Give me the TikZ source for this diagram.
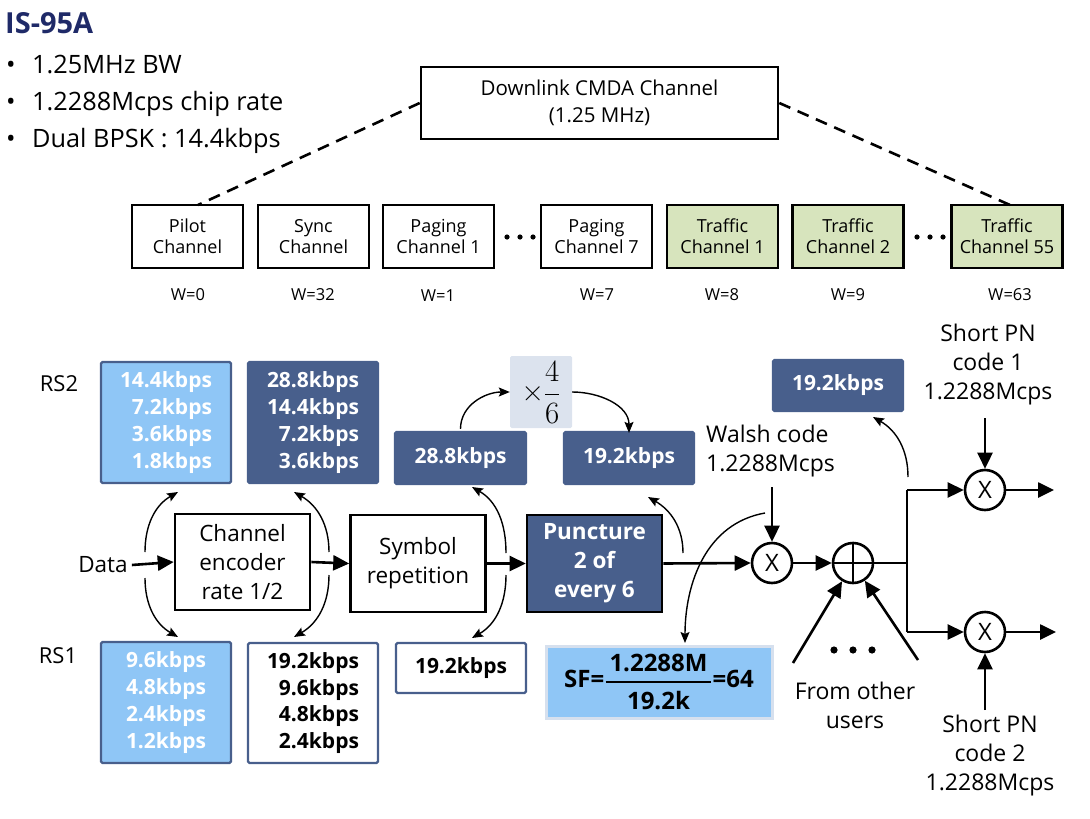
\documentclass[tikz,border=0pt]{standalone}
\usepackage{fix-cm}
\usepackage{amsmath}
\usepackage{fontspec}
\setmainfont{Open Sans}
\newfontfamily\lmr{Latin Modern Roman}
\usetikzlibrary{arrows.meta}
\newcommand{\fs}[2]{\fontsize{#1}{#2}\selectfont}
\definecolor{navy}{RGB}{31,42,104}
\definecolor{dblue}{RGB}{72,95,140}
\definecolor{lblue}{RGB}{143,198,246}
\definecolor{tgreen}{RGB}{215,228,189}
\definecolor{fracbg}{RGB}{220,227,238}
\definecolor{sfborder}{RGB}{214,224,238}
\tikzset{
  chbox/.style={draw, line width=2.6pt, minimum width=111pt, minimum height=63pt, inner sep=0pt, align=center, font=\fs{18}{21}},
  procbox/.style={draw, line width=2.6pt, minimum width=135pt, minimum height=96pt, inner sep=0pt, align=center, font=\fs{22.5}{29}},
  rate/.style={rounded corners=1.5pt, line width=2.2pt, draw=dblue, inner sep=0pt, align=right, font=\bfseries\fs{21}{26.7}, text=white},
  lb/.style={rate, fill=lblue},
  db/.style={rate, fill=dblue},
  wb/.style={rate, fill=white, text=black},
  mult/.style={circle, draw, line width=2.6pt, minimum size=40pt, inner sep=0pt, font=\fs{24}{24}},
  mainarr/.style={line width=2.6pt, -{Triangle[length=16pt,width=15pt]}},
  thinarr/.style={line width=1.4pt, -{Stealth[length=11pt,width=9pt,inset=2pt]}},
  dashln/.style={line width=2.6pt, dash pattern=on 12pt off 8pt},
  lbl/.style={inner sep=0pt, align=center},
  wlbl/.style={inner sep=0pt, font=\fs{16.5}{18}},
  bul/.style={anchor=base west, inner sep=0pt, font=\fs{25.3}{30}},
}
\begin{document}
\begin{tikzpicture}[x=1pt,y=-1pt]
\useasboundingbox (0,0) rectangle (1090,819);
% title and bullets
\node[anchor=base west, inner sep=0pt, font=\bfseries\fs{29}{34}, text=navy] (title) at (5,34) {IS-95A};
\node[bul] (d1) at (6,73) {•};
\node[bul] (b1) at (32,73) {1.25MHz BW};
\node[bul] (d2) at (6,110) {•};
\node[bul] (b2) at (32,110) {1.2288Mcps chip rate};
\node[bul] (d3) at (6,147) {•};
\node[bul] (b3) at (32,147) {Dual BPSK : 14.4kbps};
% downlink
\node[draw, line width=2.6pt, minimum width=357pt, minimum height=72pt, inner sep=0pt, align=center, font=\fs{20.5}{27}] (dl) at (599.5,103) {Downlink CMDA Channel\\(1.25 MHz)};
% channels
\node[chbox] (pilot) at (187.5,236.5) {Pilot\\Channel};
\node[chbox] (sync) at (313.5,236.5) {Sync\\Channel};
\node[chbox] (pag1) at (438.5,236.5) {Paging\\Channel 1};
\node[chbox] (pag7) at (596.5,236.5) {Paging\\Channel 7};
\node[chbox, fill=tgreen] (tr1) at (722.5,236.5) {Traffic\\Channel 1};
\node[chbox, fill=tgreen] (tr2) at (848,236.5) {Traffic\\Channel 2};
\node[chbox, fill=tgreen] (tr55) at (1007,236.5) {Traffic\\Channel 55};
\foreach \x in {507,520,533,917,930,943} \fill (\x,237) circle (2.6pt);
\node[wlbl] (w0) at (188,295) {W=0};
\node[wlbl] (w32) at (313,295) {W=32};
\node[wlbl] (w1) at (438,296) {W=1};
\node[wlbl] (w7) at (597,295) {W=7};
\node[wlbl] (w8) at (722,295) {W=8};
\node[wlbl] (w9) at (848,295) {W=9};
\node[wlbl] (w63) at (1010,295) {W=63};
\coordinate (pilotTop) at (198,205);
\coordinate (tr55Top) at (1010,205);
\draw[dashln] (dl.west) -- (pilotTop);
\draw[dashln] (dl.east) -- (tr55Top);
% lower section labels
\node[lbl, font=\fs{22}{26}] (rs2) at (59,384) {RS2};
\node[lbl, font=\fs{22}{26}] (rs1) at (58,656) {RS1};
\node[lb, minimum width=130pt, minimum height=121pt] (lb1) at (166,422.5) {14.4kbps\\7.2kbps\\3.6kbps\\1.8kbps};
\node[db, minimum width=130pt, minimum height=121pt] (db1) at (313,422.5) {28.8kbps\\14.4kbps\\7.2kbps\\3.6kbps};
\node[lb, minimum width=130pt, minimum height=121pt] (lb2) at (166,702.5) {9.6kbps\\4.8kbps\\2.4kbps\\1.2kbps};
\node[wb, minimum width=130pt, minimum height=120pt] (wb1) at (313,703) {19.2kbps\\9.6kbps\\4.8kbps\\2.4kbps};
\node[lbl, font=\fs{22.5}{29}] (data) at (103,565) {Data};
\node[procbox] (enc) at (242.5,562) {Channel\\encoder\\rate 1/2};
\node[procbox, minimum height=97pt] (sym) at (418,563.5) {Symbol\\repetition};
\node[procbox, minimum height=97pt, fill=dblue, text=white, font=\bfseries\fs{22.5}{29}] (pun) at (594.5,563.5) {Puncture\\2 of\\every 6};
\node[db, minimum width=131pt, minimum height=52pt] (r288) at (460.5,458) {28.8kbps};
\node[db, minimum width=130pt, minimum height=52pt] (r192a) at (629,458) {19.2kbps};
\node[fill=fracbg, rounded corners=1.5pt, minimum width=62pt, minimum height=72pt, inner sep=0pt, font=\fs{31}{34}] (frac) at (541,392) {$\text{\lmr ×}\genfrac{}{}{1pt}{0}{\text{\lmr 4}}{\text{\lmr 6}}$};
\node[wb, minimum width=130pt, minimum height=50pt] (r192b) at (461,668) {19.2kbps};
\node[fill=lblue, draw=sfborder, line width=3pt, minimum width=226pt, minimum height=72pt, inner sep=0pt, font=\bfseries\fs{24}{26}] (sf) at (659,682) {SF=$\genfrac{}{}{2.6pt}{0}{\text{\bfseries\,1.2288M\,}}{\text{\bfseries 19.2k}}$=64};
\node[anchor=west, inner sep=0pt, align=left, font=\fs{23}{29}] (walsh) at (706,451) {Walsh code\\1.2288Mcps};
\node[db, minimum width=130pt, minimum height=51pt] (r192c) at (838,385.5) {19.2kbps};
\node[lbl, font=\fs{23}{29}] (spn1) at (988,365) {Short PN\\code 1\\1.2288Mcps};
\node[lbl, font=\fs{23}{29}] (spn2) at (990,756) {Short PN\\code 2\\1.2288Mcps};
\node[lbl, font=\fs{23}{29}] (users) at (855,705) {From other\\users};
\foreach \x in {834,853,872} \fill (\x,650) circle (3.6pt);
% circles
\node[mult] (m1) at (772,563) {X};
\node[mult] (add) at (853,563) {};
\draw[line width=2.6pt] (add.north) -- (add.south) (add.west) -- (add.east);
\node[mult] (m2) at (985,490) {X};
\node[mult] (m3) at (985,632) {X};
% coordinates
\coordinate (J) at (907,563);
\coordinate (Jt) at (907,490);
\coordinate (Jb) at (907,632);
\coordinate (o1) at (1054,490);
\coordinate (o2) at (1056,632);
\coordinate (walshIn) at (772,487);
\coordinate (pn1In) at (985,418);
\coordinate (pn2In) at (985,710);
\coordinate (ou1) at (793,663);
\coordinate (ou2) at (918,660);
% main arrows
\draw[mainarr] (data.east) ++(4,0) -- (enc.west);
\draw[mainarr] (enc.east) -- (sym.west);
\draw[mainarr] (sym.east) -- (pun.west);
\draw[mainarr] (pun.east) -- (m1.west);
\draw[mainarr] (m1.east) -- (add.west);
\draw[line width=2.6pt] (add.east) -- (J);
\draw[line width=2.6pt] (Jt) -- (Jb);
\draw[mainarr] (Jt) -- (m2.west);
\draw[mainarr] (Jb) -- (m3.west);
\draw[mainarr] (m2.east) -- (o1);
\draw[mainarr] (m3.east) -- (o2);
\draw[mainarr] (walshIn) -- (m1.north);
\draw[mainarr] (pn1In) -- (m2.north);
\draw[mainarr] (pn2In) -- (m3.south);
\draw[mainarr] (ou1) -- (add);
\draw[mainarr] (ou2) -- (add);
% thin curved arrows
\coordinate (a1s) at (145,552); \coordinate (a1e) at (178,492);
\coordinate (a2s) at (145,578); \coordinate (a2e) at (178,637);
\coordinate (a3s) at (329,552); \coordinate (a3e) at (294,492);
\coordinate (a4s) at (329,575); \coordinate (a4e) at (294,637);
\coordinate (a5s) at (506,553); \coordinate (a5e) at (472,487);
\coordinate (a6s) at (506,575); \coordinate (a6e) at (472,638);
\coordinate (a7s) at (683,553); \coordinate (a7e) at (648,497);
\coordinate (a8s) at (765,513); \coordinate (a8e) at (685,643);
\coordinate (a9s) at (908,477); \coordinate (a9e) at (873,417);
\draw[thinarr] (a1s) to[out=90,in=210] (a1e);
\draw[thinarr] (a2s) to[out=-90,in=150] (a2e);
\draw[thinarr] (a3s) to[out=90,in=-30] (a3e);
\draw[thinarr] (a4s) to[out=-90,in=30] (a4e);
\draw[thinarr] (a5s) to[out=90,in=-30] (a5e);
\draw[thinarr] (a6s) to[out=-90,in=30] (a6e);
\draw[thinarr] (a7s) to[out=90,in=-30] (a7e);
\draw[thinarr] (a8s) to[out=190,in=90] (a8e);
\draw[thinarr] (a9s) to[out=90,in=-30] (a9e);
\draw[thinarr] (r288.north) ++(0,-2) to[out=90,in=180] (frac.west);
\draw[thinarr] (frac.east) to[out=0,in=90] ([yshift=-2pt]r192a.north);
\end{tikzpicture}
\end{document}
